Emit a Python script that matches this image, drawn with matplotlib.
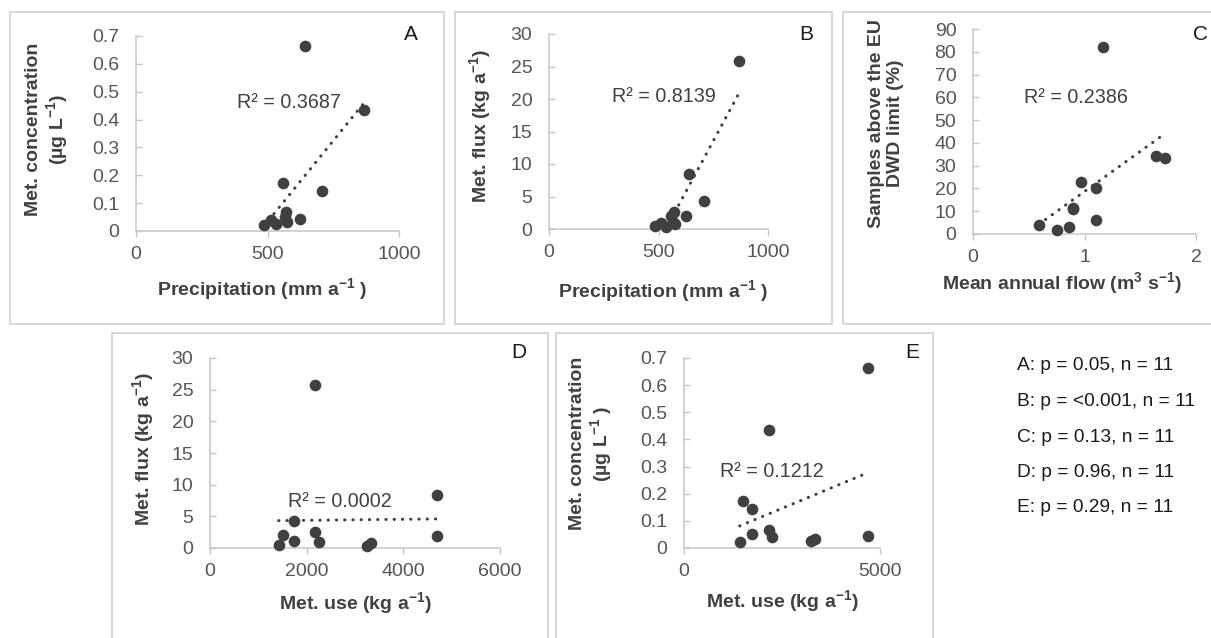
import numpy as np
import matplotlib
matplotlib.use("Agg")
import matplotlib.pyplot as plt
from matplotlib.patches import Rectangle

plt.rcParams["font.family"] = ["Liberation Sans", "DejaVu Sans"]
plt.rcParams["mathtext.fontset"] = "custom"
plt.rcParams["mathtext.rm"] = "Liberation Sans"
plt.rcParams["mathtext.it"] = "Liberation Sans"
plt.rcParams["mathtext.bf"] = "Liberation Sans:bold"

# --- catchment data (11 sites) ---
precipitation = [868, 641, 709, 558, 624, 572, 567, 513, 485, 533, 575]        # mm a-1
concentration = [0.434, 0.663, 0.145, 0.172, 0.044, 0.068, 0.050, 0.040, 0.022, 0.025, 0.033]  # ug L-1
flux = [25.8, 8.4, 4.3, 2.0, 1.95, 2.6, 1.1, 0.9, 0.45, 0.35, 0.8]            # kg a-1
met_use = [2180, 4700, 1740, 1510, 4700, 2180, 1740, 2250, 1420, 3250, 3330]   # kg a-1
mean_flow = [1.17, 1.64, 1.72, 0.97, 1.10, 0.90, 1.10, 0.59, 0.75, 0.86, 0.90]  # m3 s-1
pct_above_limit = [82.1, 34.1, 33.4, 22.7, 20.2, 11.3, 6.3, 4.1, 1.9, 2.9, 11.0]  # %

r2_labels = ["R² = 0.3687", "R² = 0.8139", "R² = 0.2386", "R² = 0.0002", "R² = 0.1212"]
stats_lines = ["A: p = 0.05, n = 11", "B: p = <0.001, n = 11", "C: p = 0.13, n = 11",
               "D: p = 0.96, n = 11", "E: p = 0.29, n = 11"]

W, H = 1211, 638
fig = plt.figure(figsize=(W / 100, H / 100), dpi=100)

LABEL_C = "#404040"
TICK_C = "#555555"
AXIS_C = "#c6c6c6"
MARK_C = "#404040"
TICK_FS = 14
LABEL_FS = 14
R2_FS = 14.2


def fx(px):
    return px / W


def fy(py):
    return 1 - py / H


def panel_box(x0, y0, x1, y1):
    fig.patches.append(Rectangle((fx(x0), fy(y1)), fx(x1 - x0), (y1 - y0) / H,
                                 transform=fig.transFigure, fill=False,
                                 edgecolor="#d4d4d4", linewidth=1.3))


def make_axes(x0, x1, y_bottom, y_top):
    return fig.add_axes([fx(x0), fy(y_bottom), fx(x1 - x0), (y_bottom - y_top) / H])


def style(ax, xlim, xticks, xtl, ylim, yticks, ytl):
    ax.set_xlim(*xlim)
    ax.set_ylim(*ylim)
    ax.set_xticks(xticks)
    ax.set_xticklabels(xtl)
    ax.set_yticks(yticks)
    ax.set_yticklabels(ytl)
    for s in ("top", "right"):
        ax.spines[s].set_visible(False)
    for s in ("left", "bottom"):
        ax.spines[s].set_color(AXIS_C)
        ax.spines[s].set_linewidth(1.1)
    ax.tick_params(axis="y", direction="in", length=4, width=1.0, color=AXIS_C,
                   labelsize=TICK_FS, labelcolor=TICK_C, pad=12)
    ax.tick_params(axis="x", direction="out", length=4, width=1.0, color=AXIS_C,
                   labelsize=TICK_FS, labelcolor=TICK_C, pad=7)
    ax.patch.set_alpha(0)
    for lab in ax.get_xticklabels() + ax.get_yticklabels():
        lab.set_clip_on(False)


def scatter_trend(ax, x, y):
    x = np.asarray(x, float)
    y = np.asarray(y, float)
    slope, icpt = np.polyfit(x, y, 1)
    xs = np.array([x.min(), x.max()])
    ax.plot(xs, slope * xs + icpt, color=MARK_C, linewidth=2.2,
            linestyle=(0, (0.1, 2.6)), dash_capstyle="round", zorder=2, clip_on=True)
    ax.plot(x, y, "o", color=MARK_C, markersize=8.4, markeredgewidth=0, zorder=3, clip_on=False)


def labels(ax, xlabel, xl_pos, ylabel, yl_pos):
    ax.set_xlabel(xlabel, fontsize=LABEL_FS, fontweight="bold", color=LABEL_C, va="center")
    ax.xaxis.set_label_coords(*xl_pos)
    ax.set_ylabel(ylabel, fontsize=LABEL_FS, fontweight="bold", color=LABEL_C, va="center",
                  linespacing=1.1)
    ax.yaxis.set_label_coords(*yl_pos)


SUP = r"$^{\mathbf{-1}}$"
conc_ticks = [0, 0.1, 0.2, 0.3, 0.4, 0.5, 0.6, 0.7]
conc_tl = ["0", "0.1", "0.2", "0.3", "0.4", "0.5", "0.6", "0.7"]
flux_ticks = [0, 5, 10, 15, 20, 25, 30]
flux_tl = [str(t) for t in flux_ticks]

# panel frames
panel_box(10, 12, 444, 324)
panel_box(455, 12, 832, 324)
panel_box(843, 12, 1215, 324)
panel_box(112, 333, 548, 645)
panel_box(556, 333, 933, 645)

# A: precipitation vs concentration
axA = make_axes(136, 399, 231, 36)
style(axA, (0, 1000), [0, 500, 1000], ["0", "500", "1000"], (0, 0.7), conc_ticks, conc_tl)
scatter_trend(axA, precipitation, concentration)
labels(axA, "Precipitation (mm a" + SUP + " )", (0.48, -0.30),
       "Met. concentration\n(µg L" + SUP + ")", (-0.335, 0.52))
axA.text(0.384, 0.66, r2_labels[0], transform=axA.transAxes, fontsize=R2_FS,
         color=LABEL_C, va="center", ha="left")

# B: precipitation vs flux
axB = make_axes(549, 768, 229, 34)
style(axB, (0, 1000), [0, 500, 1000], ["0", "500", "1000"], (0, 30), flux_ticks, flux_tl)
scatter_trend(axB, precipitation, flux)
labels(axB, "Precipitation (mm a" + SUP + " )", (0.52, -0.32),
       "Met. flux (kg a" + SUP + ")", (-0.315, 0.53))
axB.text(0.288, 0.677, r2_labels[1], transform=axB.transAxes, fontsize=R2_FS,
         color=LABEL_C, va="center", ha="left")

# C: mean flow vs exceedance
axC = make_axes(973, 1196, 234, 29)
c_ticks = list(range(0, 100, 10))
style(axC, (0, 2), [0, 1, 2], ["0", "1", "2"], (0, 90), c_ticks, [str(t) for t in c_ticks])
scatter_trend(axC, mean_flow, pct_above_limit)
labels(axC, r"Mean annual flow (m$^{\mathbf{3}}$ s" + SUP + ")", (0.40, -0.24),
       "Samples above the EU\nDWD limit (%)", (-0.39, 0.54))
axC.text(0.229, 0.668, r2_labels[2], transform=axC.transAxes, fontsize=R2_FS,
         color=LABEL_C, va="center", ha="left")

# D: use vs flux
axD = make_axes(210, 500, 548, 358)
style(axD, (0, 6000), [0, 2000, 4000, 6000], ["0", "2000", "4000", "6000"],
      (0, 30), flux_ticks, flux_tl)
scatter_trend(axD, met_use, flux)
labels(axD, "Met. use (kg a" + SUP + ")", (0.50, -0.29),
       "Met. flux (kg a" + SUP + ")", (-0.23, 0.52))
axD.text(0.269, 0.247, r2_labels[3], transform=axD.transAxes, fontsize=R2_FS,
         color=LABEL_C, va="center", ha="left")

# E: use vs concentration
axE = make_axes(684, 880, 548, 358)
style(axE, (0, 5000), [0, 5000], ["0", "5000"], (0, 0.7), conc_ticks, conc_tl)
scatter_trend(axE, met_use, concentration)
labels(axE, "Met. use (kg a" + SUP + ")", (0.50, -0.28),
       "Met. concentration\n(µg L" + SUP + " )", (-0.47, 0.55))
axE.text(0.184, 0.405, r2_labels[4], transform=axE.transAxes, fontsize=R2_FS,
         color=LABEL_C, va="center", ha="left")

# panel letters
for letter, (px, py) in zip("ABCDE", [(411, 35), (806, 34), (1201, 35), (519, 353), (912, 353)]):
    fig.text(fx(px), fy(py), letter, fontsize=15, color="#1a1a1a", ha="center", va="center")

# statistics block
for i, line in enumerate(stats_lines):
    fig.text(fx(1017), fy(366 + i * 35.5), line, fontsize=13.8, color="#1a1a1a",
             ha="left", va="center")

fig.savefig("out.png", dpi=100)
